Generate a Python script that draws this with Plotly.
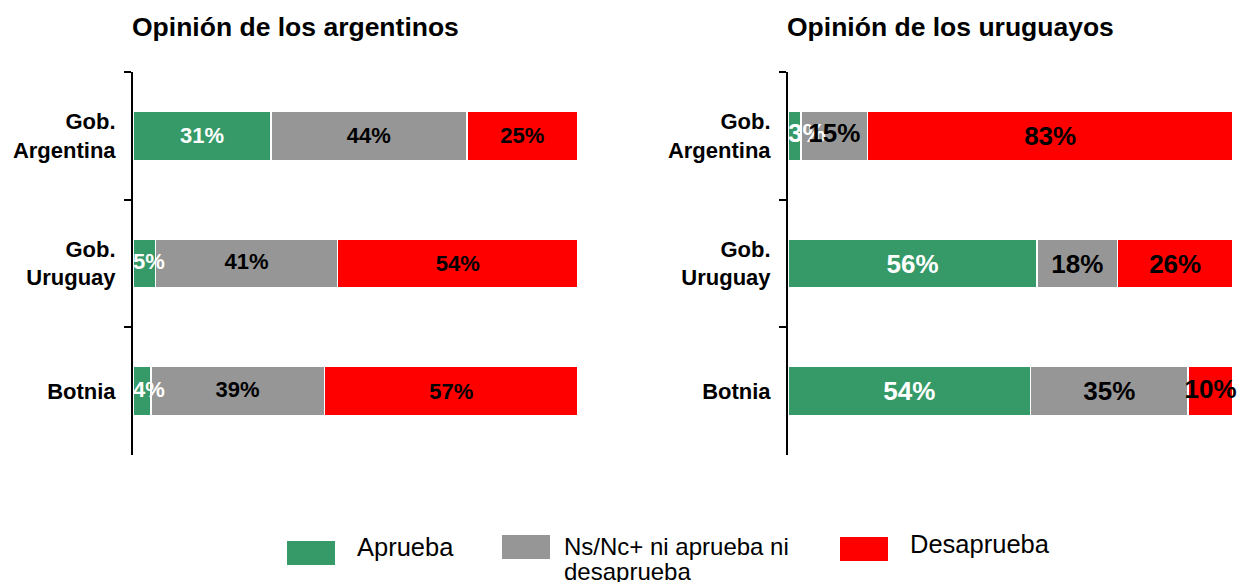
import plotly.graph_objects as go

# ---- data ----
categories = ["Gob.<br>Argentina", "Gob.<br>Uruguay", "Botnia"]
series_names = ["Aprueba", "Ns/Nc+ ni aprueba ni<br>desaprueba", "Desaprueba"]
colors = ["#359A68", "#969696", "#FF0000"]
text_colors = ["white", "black", "black"]

arg_aprueba = [31, 5, 4]
arg_ns = [44, 41, 39]
arg_desaprueba = [25, 54, 57]

uru_aprueba = [3, 56, 54]
uru_ns = [15, 18, 35]
uru_desaprueba = [83, 26, 10]

titles = ["Opinión de los argentinos", "Opinión de los uruguayos"]

panels = [
    ("x", "y", [arg_aprueba, arg_ns, arg_desaprueba], 22),
    ("x2", "y2", [uru_aprueba, uru_ns, uru_desaprueba], 26),
]

FONT = "Arial, Liberation Sans, sans-serif"
W, H = 1240, 582
ML, MR, MT, MB = 133, 7, 72, 127
PW, PH = W - ML - MR, H - MT - MB
SMALL = 12  # segments narrower than this (in %) get an overflowing label on top


def px_x(p):
    return (p - ML) / PW


def px_y(p):
    return (H - MB - p) / PH


fig = go.Figure()
overlay = []
for xa, ya, vals, fs in panels:
    totals = [sum(col) for col in zip(*vals)]
    n = len(categories)
    # a label goes on top if its segment is narrow, or follows a narrow one
    on_top = []
    for s, v in enumerate(vals):
        on_top.append([v[i] < SMALL or (s > 0 and vals[s - 1][i] < SMALL and on_top[s - 1][i])
                       for i in range(n)])
    cum = [0.0] * n
    for s, (name, v, c, tc) in enumerate(zip(series_names, vals, colors, text_colors)):
        # bars (normalised to 100% by barnorm); labels that fit sit inside
        fig.add_trace(go.Bar(
            y=categories, x=v, name=name, orientation="h",
            xaxis=xa, yaxis=ya,
            marker=dict(color=c, line=dict(color="white", width=1.5)),
            text=["" if on_top[s][i] else f"{v[i]}%" for i in range(n)],
            textposition="inside", insidetextanchor="middle",
            constraintext="none", textangle=0,
            textfont=dict(family=FONT, size=fs, color=tc, weight="bold"),
            showlegend=False, hoverinfo="skip",
        ))
        xs, ys, ts, pos = [], [], [], []
        for i in range(n):
            if on_top[s][i]:
                start = cum[i] / totals[i] * 100
                mid = (cum[i] + v[i] / 2) / totals[i] * 100
                first = cum[i] == 0 and v[i] < SMALL
                xs.append(start if first else mid)
                pos.append("middle right" if first else "middle center")
                ys.append(categories[i])
                ts.append(f"{v[i]}%")
        cum = [cum[i] + v[i] for i in range(n)]
        if xs:
            overlay.append(go.Scatter(
                y=ys, x=xs, mode="text", xaxis=xa, yaxis=ya,
                text=ts, textposition=pos,
                textfont=dict(family=FONT, size=fs, color=tc, weight="bold"),
                cliponaxis=False, showlegend=False, hoverinfo="skip",
            ))
for tr in overlay:
    fig.add_trace(tr)

axis_y = dict(
    type="category", categoryorder="array", categoryarray=categories,
    autorange="reversed", showline=True, linecolor="black", linewidth=2,
    ticks="outside", ticklen=7, tickwidth=2, tickcolor="black",
    tickson="boundaries", showgrid=False, zeroline=False,
    ticklabelstandoff=11,
    tickfont=dict(family=FONT, size=22, color="black", weight="bold"),
)
axis_x = dict(range=[0, 100], showticklabels=False, showgrid=False,
              zeroline=False, showline=False, ticks="")

left_end = px_x(578)
right_start = px_x(788)

fig.update_layout(
    width=W, height=H, barmode="stack", barnorm="percent", bargap=0.615,
    plot_bgcolor="white", paper_bgcolor="white",
    margin=dict(l=ML, r=MR, t=MT, b=MB),
    xaxis=dict(domain=[0, left_end], **axis_x),
    xaxis2=dict(domain=[right_start, 1], anchor="y2", **axis_x),
    yaxis=dict(anchor="x", **axis_y),
    yaxis2=dict(anchor="x2", **axis_y),
    font=dict(family=FONT, color="black"),
)

# titles
for t, xp in zip(titles, [130, 785]):
    fig.add_annotation(text=f"<b>{t}</b>", xref="paper", yref="paper",
                       x=px_x(xp), y=px_y(27), xanchor="left", yanchor="middle",
                       showarrow=False, font=dict(family=FONT, size=26.5, color="black"))

# custom legend (large colour boxes as in the reference)
legend_boxes = [(287, 541), (502, 535), (840, 537)]
legend_text_pos = [(355, 547), (562, 546), (908, 544)]
legend_font = [25.5, 24, 25.5]
LINE = 25
for name, c, (bx, by), (tx, ty), lf in zip(series_names, colors, legend_boxes,
                                           legend_text_pos, legend_font):
    fig.add_shape(type="rect", xref="paper", yref="paper",
                  x0=px_x(bx), x1=px_x(bx + 48), y0=px_y(by), y1=px_y(by + 24),
                  fillcolor=c, line=dict(width=0))
    for k, line in enumerate(name.split("<br>")):
        fig.add_annotation(text=line, xref="paper", yref="paper",
                           x=px_x(tx), y=px_y(ty + k * LINE), xanchor="left",
                           yanchor="middle", align="left", showarrow=False,
                           font=dict(family=FONT, size=lf, color="black"))

fig.write_html("out.html", config={"displayModeBar": False},
               post_script="document.body.style.margin='0px';document.body.style.overflow='hidden';")
